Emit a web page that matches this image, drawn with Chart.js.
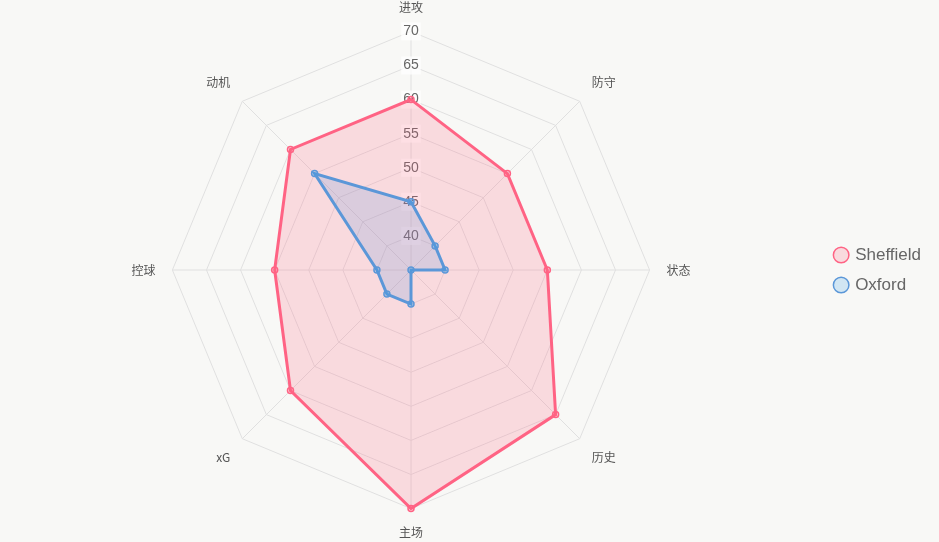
<!DOCTYPE html>
<html>
<head>
<meta charset="utf-8">
<script src="https://cdn.jsdelivr.net/npm/chart.js@4"></script>
<style>
  html, body { margin: 0; padding: 0; background: #f8f8f6; }
  #wrap { width: 939px; height: 542px; }
</style>
</head>
<body>
<div id="wrap"><canvas id="chart"></canvas></div>
<script>
// Axis labels
const labels = ["进攻", "防守", "状态", "历史", "主场", "xG", "控球", "动机"];

// Series values
const sheffield = [60, 55, 55, 65, 70, 60, 55, 60];
const oxford = [45, 40, 40, 35, 40, 40, 40, 55];

const ctx = document.getElementById("chart").getContext("2d");

new Chart(ctx, {
  type: "radar",
  data: {
    labels: labels,
    datasets: [
      {
        label: "Sheffield",
        data: sheffield,
        borderColor: "#ff6384",
        backgroundColor: "rgba(255, 99, 132, 0.2)",
        pointBackgroundColor: "rgba(255, 99, 132, 0.2)",
        pointBorderColor: "#ff6384",
        borderWidth: 3,
        pointRadius: 3,
        pointBorderWidth: 1.5,
        fill: true,
      },
      {
        label: "Oxford",
        data: oxford,
        borderColor: "#5b97d8",
        backgroundColor: "rgba(54, 162, 235, 0.2)",
        pointBackgroundColor: "rgba(54, 162, 235, 0.2)",
        pointBorderColor: "#5b97d8",
        borderWidth: 3,
        pointRadius: 3,
        pointBorderWidth: 1.5,
        fill: true,
      },
    ],
  },
  options: {
    responsive: true,
    maintainAspectRatio: false,
    animation: false,
    layout: { padding: { top: 0, bottom: 2, right: 8 } },
    scales: {
      r: {
        min: 35,
        max: 70,
        ticks: {
          stepSize: 5,
          color: "#666",
          font: { size: 14, family: "Arial, 'Liberation Sans', sans-serif" },
          backdropColor: "rgba(255, 255, 255, 0.75)",
          callback: (v) => (v === 35 ? "" : v),
        },
        grid: { color: "#e0e0e0" },
        angleLines: { color: "#e0e0e0" },
        pointLabels: {
          color: "#555",
          padding: 8,
          font: { size: 12, family: "'Noto Sans CJK SC', sans-serif" },
        },
      },
    },
    plugins: {
      filler: { drawTime: "beforeDatasetsDraw" },
      legend: {
        position: "right",
        labels: {
          usePointStyle: true,
          pointStyle: "circle",
          boxWidth: 11,
          boxHeight: 11,
          color: "#666",
          font: { size: 17, family: "Arial, 'Liberation Sans', sans-serif" },
          padding: 13,
        },
      },
      tooltip: { enabled: false },
    },
  },
});
</script>
</body>
</html>
